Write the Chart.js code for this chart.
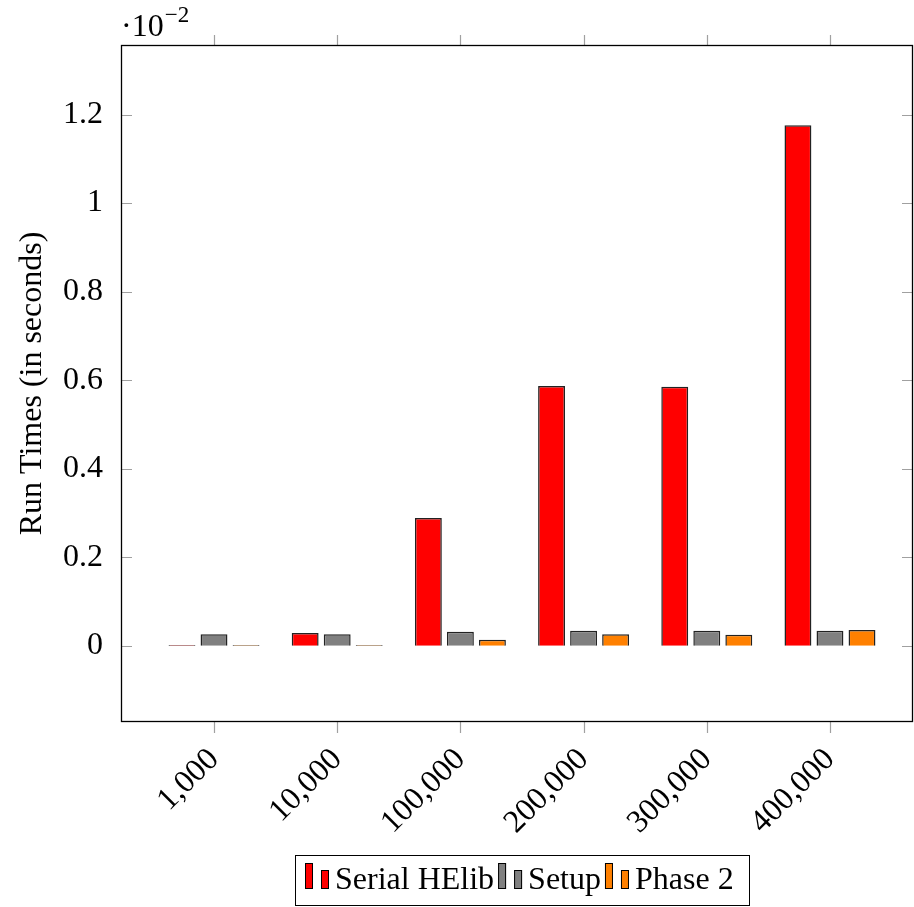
<!DOCTYPE html>
<html>
<head>
<meta charset="utf-8">
<script src="https://cdn.jsdelivr.net/npm/chart.js@4/dist/chart.umd.min.js"></script>
<style>
    html, body { margin: 0; padding: 0; background: #fff; }
    canvas { display: block; }
</style>
</head>
<body>
<canvas id="runtime-chart" width="914" height="907"></canvas>
<script>
// input sizes on the x axis
const categories = ['1,000', '10,000', '100,000', '200,000', '300,000', '400,000'];

// run times, in units of 10^-2 seconds
const serialHElib = [0.002, 0.029, 0.289, 0.587, 0.585, 1.176];
const setupTimes = [0.026, 0.026, 0.032, 0.034, 0.034, 0.034];
const phase2Times = [0.002, 0.002, 0.014, 0.026, 0.025, 0.036];

const yTicks = [0, 0.2, 0.4, 0.6, 0.8, 1, 1.2];

const FONT = 'Liberation Serif';
const TICK_GRAY = '#a0a0a0';

function toPoints(values) {
    return values.map((v, i) => ({ x: i, y: v }));
}

// axis box, pgfplots-style tick marks, the 10^-2 factor and the legend
const framePlugin = {
    id: 'frame',
    afterDraw(chart) {
        const { ctx, chartArea: a, scales } = chart;
        ctx.save();

        ctx.strokeStyle = TICK_GRAY;
        ctx.lineWidth = 1.2;
        ctx.beginPath();
        categories.forEach((_, i) => {
            const x = Math.round(scales.x.getPixelForValue(i)) + 0.5;
            ctx.moveTo(x, a.bottom); ctx.lineTo(x, a.bottom + 11);
            ctx.moveTo(x, a.top); ctx.lineTo(x, a.top - 10);
        });
        yTicks.forEach(v => {
            const y = Math.round(scales.y.getPixelForValue(v)) + 0.5;
            ctx.moveTo(a.left, y); ctx.lineTo(a.left + 11, y);
            ctx.moveTo(a.right, y); ctx.lineTo(a.right - 11, y);
        });
        ctx.stroke();

        ctx.strokeStyle = '#000';
        ctx.lineWidth = 1.3;
        ctx.strokeRect(a.left + 0.5, a.top + 0.5, a.right - a.left - 1, a.bottom - a.top - 1);

        // scale factor above the y axis
        ctx.fillStyle = '#000';
        ctx.textBaseline = 'alphabetic';
        ctx.textAlign = 'left';
        ctx.font = `32px "${FONT}"`;
        ctx.fillText('\u00b710', 121, 36);
        const w = ctx.measureText('\u00b710').width;
        ctx.font = `23px "${FONT}"`;
        ctx.fillText('\u22122', 121 + w + 1, 22);

        drawLegend(chart);
        ctx.restore();
    }
};

function drawLegend(chart) {
    const ctx = chart.ctx;
    const box = { left: 295, top: 855, right: 749, bottom: 905 };
    ctx.fillStyle = '#fff';
    ctx.fillRect(box.left, box.top, box.right - box.left, box.bottom - box.top);
    ctx.strokeStyle = '#000';
    ctx.lineWidth = 1;
    ctx.strokeRect(box.left + 0.5, box.top + 0.5, box.right - box.left, box.bottom - box.top);

    ctx.font = `32px "${FONT}"`;
    ctx.textBaseline = 'alphabetic';
    ctx.textAlign = 'left';
    let x = box.left + 10;
    const base = 889;
    chart.data.datasets.forEach(ds => {
        ctx.fillStyle = ds.backgroundColor;
        ctx.strokeStyle = '#000';
        ctx.lineWidth = 1;
        ctx.fillRect(x, 863, 8, 26);
        ctx.strokeRect(x + 0.5, 863.5, 7, 25);
        ctx.fillRect(x + 16, 870, 8, 19);
        ctx.strokeRect(x + 16.5, 870.5, 7, 18);
        x += 30;
        ctx.fillStyle = '#000';
        ctx.fillText(ds.label, x, base);
        x += ctx.measureText(ds.label).width + 4;
    });
}

Chart.defaults.font.family = FONT;
Chart.defaults.font.size = 32;
Chart.defaults.color = '#000';

new Chart(document.getElementById('runtime-chart'), {
    type: 'bar',
    data: {
        datasets: [
            {
                label: 'Serial HElib',
                data: toPoints(serialHElib),
                backgroundColor: '#ff0000',
                borderColor: '#222',
                borderWidth: 1.5
            },
            {
                label: 'Setup',
                data: toPoints(setupTimes),
                backgroundColor: '#808080',
                borderColor: '#222',
                borderWidth: 1.5
            },
            {
                label: 'Phase 2',
                data: toPoints(phase2Times),
                backgroundColor: '#ff8000',
                borderColor: '#222',
                borderWidth: 1.5
            }
        ]
    },
    options: {
        responsive: false,
        animation: false,
        layout: { padding: { left: 0, top: 45, right: 1, bottom: 0 } },
        datasets: {
            bar: { categoryPercentage: 0.78, barPercentage: 0.84 }
        },
        plugins: {
            legend: { display: false },
            tooltip: { enabled: false }
        },
        scales: {
            x: {
                type: 'linear',
                offset: false,
                min: -0.755,
                max: 5.674,
                grid: { display: false, offset: false },
                border: { display: false },
                afterBuildTicks: s => { s.ticks = categories.map((_, i) => ({ value: i })); },
                afterFit: s => { s.height = 185; },
                ticks: {
                    autoSkip: false,
                    minRotation: 45,
                    maxRotation: 45,
                    padding: 11,
                    callback: v => categories[v]
                }
            },
            y: {
                min: -0.172,
                max: 1.357,
                grid: { display: false },
                border: { display: false },
                afterBuildTicks: s => { s.ticks = yTicks.map(v => ({ value: v })); },
                afterFit: s => { s.width = 121; },
                ticks: {
                    padding: 10,
                    callback: v => String(+v.toFixed(1))
                },
                title: {
                    display: true,
                    text: 'Run Times (in seconds)',
                    padding: { top: 13, bottom: 0 }
                }
            }
        }
    },
    plugins: [framePlugin]
});
</script>
</body>
</html>
